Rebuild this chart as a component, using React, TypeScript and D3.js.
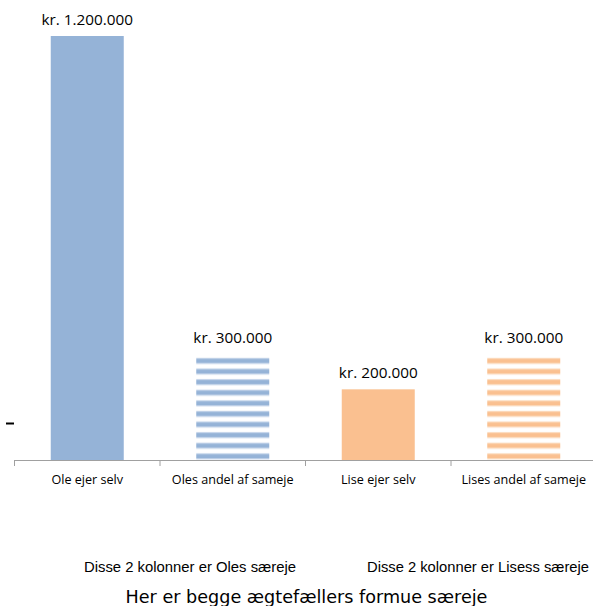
import React from "react";
import * as d3 from "d3";

const categories = ["Ole ejer selv", "Oles andel af sameje", "Lise ejer selv", "Lises andel af sameje"];
const values = [1200000, 300000, 200000, 300000];
const valueLabels = ["kr. 1.200.000", "kr. 300.000", "kr. 200.000", "kr. 300.000"];
const striped = [false, true, false, true];
const colors = ["#95b3d7", "#95b3d7", "#fac090", "#fac090"];
const lightColors = ["#c5d5ea", "#c5d5ea", "#fcdcc0", "#fcdcc0"];
const groupNotes = ["Disse 2 kolonner er Oles særeje", "Disse 2 kolonner er Lisess særeje"];
const title = "Her er begge ægtefællers formue særeje";

const W = 593;
const H = 606;

export default function App() {
  const x = d3.scaleBand<string>().domain(categories).range([14.5, 596.5]).paddingInner(0).paddingOuter(0);
  const y = d3.scaleLinear().domain([0, 1200000]).range([460, 36]);
  const barW = 73;
  const period = 10.6;

  return (
    <svg width={W} height={H} style={{ position: "absolute", left: 0, top: 0 }}>
      <defs>
        {categories.map((c, i) =>
          striped[i] ? (
            <pattern key={c} id={`stripe${i}`} patternUnits="userSpaceOnUse" width={10} height={period} y={y(values[i])}>
              <rect x={0} y={0} width={10} height={period} fill="#ffffff" />
              <rect x={0} y={3.8} width={10} height={6.2} fill={lightColors[i]} />
              <rect x={0} y={5} width={10} height={3.8} fill={colors[i]} />
            </pattern>
          ) : null
        )}
      </defs>
      {categories.map((c, i) => {
        const cx = (x(c) as number) + x.bandwidth() / 2;
        return (
          <g key={c}>
            <rect
              x={cx - barW / 2}
              y={y(values[i])}
              width={barW}
              height={y(0) - y(values[i])}
              fill={striped[i] ? `url(#stripe${i})` : colors[i]}
            />
            <text
              x={cx}
              y={y(values[i]) - 11}
              textAnchor="middle"
              fontFamily="Open Sans"
              fontSize={15.3}
              fill="#000"
            >
              {valueLabels[i]}
            </text>
            <text x={cx} y={484} textAnchor="middle" fontFamily="Open Sans" fontSize={12.6} fill="#000">
              {c}
            </text>
          </g>
        );
      })}
      <line x1={14} x2={W} y1={460.5} y2={460.5} stroke="#a0a0a0" strokeWidth={1} />
      {categories.map((c) => (
        <line key={c} x1={(x(c) as number)} x2={(x(c) as number)} y1={460.5} y2={466} stroke="#a0a0a0" strokeWidth={1} />
      ))}
      <line x1={6} x2={14} y1={423.5} y2={423.5} stroke="#000" strokeWidth={2} />
      <text x={84} y={572} fontFamily="Liberation Sans" fontSize={14.8} fill="#000" textLength={212} lengthAdjust="spacingAndGlyphs">
        {groupNotes[0]}
      </text>
      <text x={367} y={572} fontFamily="Liberation Sans" fontSize={14.8} fill="#000" textLength={222} lengthAdjust="spacingAndGlyphs">
        {groupNotes[1]}
      </text>
      <text x={306.5} y={603} textAnchor="middle" fontFamily="DejaVu Sans" fontSize={17.6} fill="#000">
        {title}
      </text>
    </svg>
  );
}
